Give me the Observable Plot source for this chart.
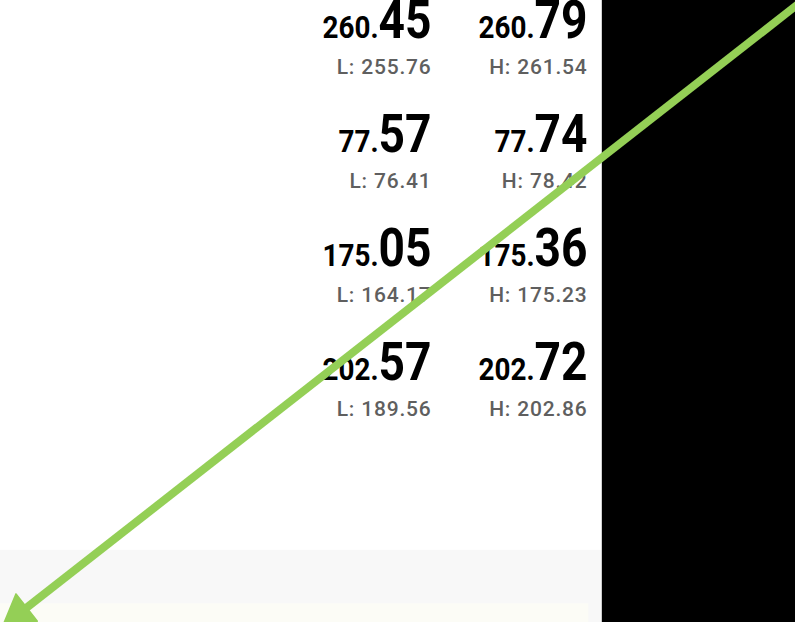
<!DOCTYPE html>
<html><head><meta charset="utf-8">
<script src="https://cdn.jsdelivr.net/npm/d3@7"></script>
<script src="https://cdn.jsdelivr.net/npm/@observablehq/plot@0.6"></script>
<style>
html,body{margin:0;padding:0;background:#fff;}
#chart{position:relative;width:795px;height:622px;overflow:hidden;}
#chart svg{position:absolute;left:0;top:0;}
</style></head><body><div id="chart"></div>
<script>
// ---- data ----
const rowIds = [0, 1, 2, 3];
const columns = ["bid", "ask"];
const bid  = [260.45, 77.57, 175.05, 202.57];
const ask  = [260.79, 77.74, 175.36, 202.72];
const low  = [255.76, 76.41, 164.17, 189.56];
const high = [261.54, 78.42, 175.23, 202.86];
const subPrefix = {bid: "L: ", ask: "H: "};

const quotes = rowIds.flatMap(i => [
  {row: i, col: "bid", price: bid[i], extreme: low[i]},
  {row: i, col: "ask", price: ask[i], extreme: high[i]}
]);

// ---- layout (annotation geometry, frame fractions) ----
const W = 795, H = 622;
const blackPanel = [{x1: 0.757, x2: 1.0, y1: 0.0, y2: 1.0}];
const footerBand = [{x1: 0.0, x2: 0.757, y1: 0.884, y2: 1.0}];
const footerLight = [{x1: 0.0, x2: 0.74, y1: 0.97, y2: 1.0}];
const pointer = {x1: 1.003, y1: 0.006, x2: 0.003, y2: 1.006};
const headLen = 30, headHalf = 17; // px

// shaft + filled head derived from the pointer geometry
const P1 = [pointer.x1 * W, pointer.y1 * H], P2 = [pointer.x2 * W, pointer.y2 * H];
const len = Math.hypot(P2[0] - P1[0], P2[1] - P1[1]);
const u = [(P2[0] - P1[0]) / len, (P2[1] - P1[1]) / len], n = [-u[1], u[0]];
const base = [P2[0] - headLen * u[0], P2[1] - headLen * u[1]];
const toFrac = p => ({x: p[0] / W, y: p[1] / H});
const shaftEnd = toFrac([base[0] + 2 * u[0], base[1] + 2 * u[1]]), shaftStart = toFrac(P1);
const shaft = [{x1: shaftStart.x, y1: shaftStart.y, x2: shaftEnd.x, y2: shaftEnd.y}];
const head = [
  toFrac([base[0] + headHalf * n[0], base[1] + headHalf * n[1]]),
  toFrac(P2),
  toFrac([base[0] - headHalf * n[0], base[1] - headHalf * n[1]])
];
head.push(head[0]);

const quotePlot = Plot.plot({
  width: W, height: H, margin: 0,
  style: {background: "#fff"},
  x: {type: "point", domain: columns, range: [430.5, 586.5], padding: 0, axis: null},
  y: {type: "point", domain: rowIds, range: [36, 380], padding: 0, axis: null},
  marks: [
    Plot.text(quotes, {
      x: "col", y: "row", text: d => d.price.toFixed(2),
      textAnchor: "end", lineAnchor: "bottom",
      fill: "#000", fontSize: 53, fontWeight: 700, fontFamily: "Roboto, sans-serif"
    }),
    Plot.text(quotes, {
      x: "col", y: "row", dy: 36, text: d => subPrefix[d.col] + d.extreme.toFixed(2),
      textAnchor: "end", lineAnchor: "bottom",
      fill: "#5f5f5f", fontSize: 21, fontWeight: 500, fontFamily: "Roboto, 'Open Sans', sans-serif"
    })
  ]
});

// split each price into a small integer part and a large fractional part,
// and narrow the glyphs to a condensed look
const NS = "http://www.w3.org/2000/svg";
const textGroups = [...quotePlot.querySelectorAll('g[aria-label="text"]')];
const priceGroup = textGroups[0], rangeGroup = textGroups[1];
if (rangeGroup) rangeGroup.setAttribute("letter-spacing", "0.8");
if (priceGroup) priceGroup.querySelectorAll("text").forEach(t => {
  const s = t.textContent;
  const k = s.indexOf(".") + 1;
  t.textContent = "";
  const a = document.createElementNS(NS, "tspan");
  a.setAttribute("font-size", 32);
  a.textContent = s.slice(0, k);
  const b = document.createElementNS(NS, "tspan");
  b.textContent = s.slice(k);
  t.append(a, b);
  const tr = t.getAttribute("transform");
  if (tr) t.setAttribute("transform", tr + " scale(0.87,1)");
  else {
    const x = +t.getAttribute("x") || 0, y = +t.getAttribute("y") || 0;
    t.removeAttribute("x"); t.removeAttribute("y");
    t.setAttribute("transform", `translate(${x},${y}) scale(0.87,1)`);
  }
});

const green = "#94cf56";
const overlay = Plot.plot({
  width: W, height: H, margin: 0,
  style: {background: "transparent"},
  x: {type: "linear", domain: [0, 1], range: [0, W], axis: null},
  y: {type: "linear", domain: [0, 1], range: [0, H], axis: null},
  marks: [
    Plot.rect(footerBand, {x1: "x1", x2: "x2", y1: "y1", y2: "y2", fill: "#f8f8f8"}),
    Plot.rect(footerLight, {x1: "x1", x2: "x2", y1: "y1", y2: "y2", fill: "#fcfcf6"}),
    Plot.rect(blackPanel, {x1: "x1", x2: "x2", y1: "y1", y2: "y2", fill: "#000"}),
    Plot.link(shaft, {x1: "x1", y1: "y1", x2: "x2", y2: "y2", stroke: green, strokeWidth: 8}),
    Plot.line(head, {x: "x", y: "y", fill: green, stroke: green, strokeWidth: 2, strokeLinejoin: "round"})
  ]
});

const host = document.getElementById("chart");
host.append(quotePlot, overlay);
</script>
</body></html>
